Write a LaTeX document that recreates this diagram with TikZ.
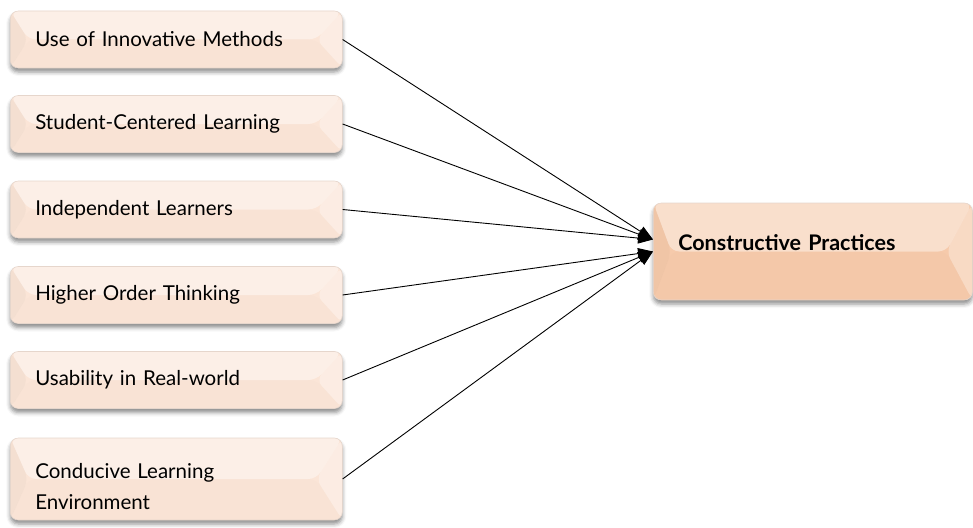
\documentclass[tikz,border=0pt]{standalone}
\usepackage{fontspec}
\setmainfont{Lato}
\usetikzlibrary{arrows.meta,shadows.blur}
\definecolor{lpeach}{HTML}{FBE5D7}
\definecolor{dpeach}{HTML}{F6CAAB}
\definecolor{edgec}{HTML}{E6D6CC}
\tikzset{
  bevel/.style={path picture={
    \fill[white,opacity=0.40] (path picture bounding box.north west) -- (path picture bounding box.north east)
      -- ([xshift=-26pt]path picture bounding box.east) -- ([xshift=18pt]path picture bounding box.west) -- cycle;
    \fill[#1!85!black,opacity=0.16] (path picture bounding box.north west) -- ([xshift=18pt]path picture bounding box.west)
      -- (path picture bounding box.south west) -- cycle;
    \fill[white,opacity=0.30] (path picture bounding box.north east) -- ([xshift=-26pt]path picture bounding box.east)
      -- (path picture bounding box.south east) -- cycle;
    \fill[#1!90!black,opacity=0.08] ([xshift=18pt]path picture bounding box.west) -- ([xshift=-26pt]path picture bounding box.east)
      -- (path picture bounding box.south east) -- (path picture bounding box.south west) -- cycle;
  }},
  boxbase/.style={draw=edgec, line width=0.6pt, rounded corners=8pt,
    blur shadow={shadow xshift=0pt, shadow yshift=-4pt, shadow blur radius=4pt, shadow opacity=45},
    inner xsep=25pt, align=left, font=\fontsize{20.5}{31}\selectfont},
  lbox/.style={boxbase, fill=lpeach, bevel=lpeach, anchor=west, minimum width=332pt, text width=282pt, minimum height=57pt},
  rbox/.style={boxbase, fill=dpeach, bevel=dpeach, anchor=west, minimum width=319pt, text width=269pt, minimum height=97pt,
    text height=15pt, text depth=18pt, font=\fontsize{21.5}{24}\selectfont\bfseries},
  conn/.style={line width=0.9pt, -{Triangle[length=15pt,width=11pt]}}
}
\begin{document}
\begin{tikzpicture}[x=1pt,y=-1pt]
\useasboundingbox (0,0) rectangle (973,527);
\node[lbox] (b1) at (10,39.5) {Use of Innovative Methods};
\node[lbox] (b2) at (10,124) {Student-Centered Learning};
\node[lbox] (b3) at (10,209.5) {Independent Learners};
\node[lbox] (b4) at (10,295) {Higher Order Thinking};
\node[lbox] (b5) at (10,380) {Usability in Real-world};
\node[lbox, minimum height=82pt] (b6) at (10,479) {\rule{0pt}{30pt}Conducive Learning\\Environment};
\node[rbox] (cp) at (653,251.5) {Constructive Practices};
\coordinate (inA) at ([yshift=12pt]cp.west);
\coordinate (inB) at ([yshift=0pt]cp.west);
\draw[conn] (b1.east) -- (inA);
\draw[conn] (b2.east) -- (inA);
\draw[conn] (b3.east) -- (inA);
\draw[conn] (b4.east) -- (inB);
\draw[conn] (b5.east) -- (inB);
\draw[conn] (b6.east) -- (inB);
\end{tikzpicture}
\end{document}
